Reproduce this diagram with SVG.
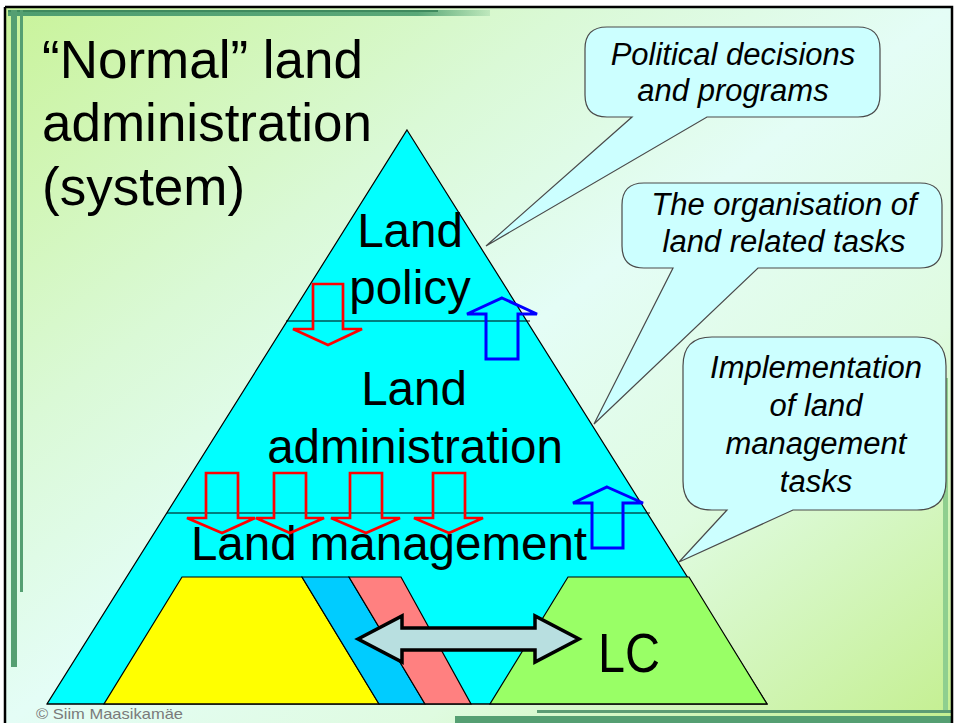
<svg xmlns="http://www.w3.org/2000/svg" width="954" height="723" viewBox="0 0 954 723">
<defs>
<linearGradient id="bg" x1="0" y1="0" x2="1" y2="1">
<stop offset="0" stop-color="#c9f39a"/>
<stop offset="0.3" stop-color="#daf9d6"/>
<stop offset="0.5" stop-color="#e4fdf6"/>
<stop offset="0.72" stop-color="#dffbe0"/>
<stop offset="1" stop-color="#c4ef90"/>
</linearGradient>
<linearGradient id="topbar" x1="0" y1="0" x2="1" y2="0">
<stop offset="0" stop-color="#4f9e70"/>
<stop offset="0.85" stop-color="#5aa878"/>
<stop offset="1" stop-color="#5aa878" stop-opacity="0.2"/>
</linearGradient>
<style>
.t{font-family:"Liberation Sans",Arial,sans-serif;fill:#000}
.title{font-size:53px}
.lbl{font-size:47.5px;text-anchor:middle}
.co{font-size:31px;font-style:italic;text-anchor:middle}
.bub{fill:#ccffff;stroke:#4a4a4a;stroke-width:1.2}
.edge{stroke:#000;stroke-width:1.2}
.down{fill:none;stroke:#ff0000;stroke-width:2.7;stroke-linejoin:miter}
.up{fill:none;stroke:#0000ff;stroke-width:3;stroke-linejoin:miter}
.deco{fill:#559f72}
</style>
</defs>
<rect width="954" height="723" fill="#fff"/>
<rect x="5" y="7" width="947" height="716" fill="url(#bg)"/>
<g id="decor">
<rect x="8" y="10" width="482" height="6" fill="url(#topbar)"/>
<rect x="8" y="10" width="430" height="2" fill="#3f8a5e"/>
<rect x="11" y="10" width="6" height="657" class="deco"/>
<rect x="20" y="10" width="3" height="582" class="deco"/>
<rect x="943" y="378" width="5" height="334" fill="#8fcf8f"/>
<rect x="537" y="710" width="415" height="3" fill="#5c9c74"/>
<rect x="455" y="716" width="497" height="7" class="deco"/>
<path d="M5,7 H952 V723 M5,7 V723" fill="none" stroke="#000" stroke-width="2.5"/>
</g>
<g id="title">
<text class="t title" x="42" y="78">“Normal” land</text>
<text class="t title" x="42" y="141">administration</text>
<text class="t title" x="42" y="205">(system)</text>
</g>
<g id="pyramid">
<polygon points="407,130 767,704 47,704" fill="#00ffff" class="edge"/>
<line x1="286" y1="321" x2="530" y2="321" class="edge"/>
<line x1="167" y1="513" x2="650" y2="513" class="edge"/>
</g>
<g id="land-policy">
<text class="t lbl" x="410" y="247">Land</text>
<text class="t lbl" x="410" y="304">policy</text>
</g>
<g id="land-administration">
<text class="t lbl" x="414" y="405">Land</text>
<text class="t lbl" x="415" y="463">administration</text>
</g>
<g id="land-management">
<text class="t lbl" x="389" y="560">Land management</text>
</g>
<g id="bottom">
<polygon points="182,577 302,577 379,704 104,704" fill="#ffff00" class="edge"/>
<polygon points="302,577 349,577 425,704 379,704" fill="#00ccff" class="edge"/>
<polygon points="349,577 401,577 471,704 425,704" fill="#ff8080" class="edge"/>
<polygon points="568,577 689,577 767,704 490,704" fill="#99ff66" class="edge"/>
<line x1="47" y1="704" x2="767" y2="704" class="edge"/>
</g>
<g id="connectors">
<path class="down" d="M313,284 H343 V329 H362 L328,345 L293,329 H313 Z"/>
<path class="up" d="M502,298 L537,314 H518 V359 H486 V314 H467 Z"/>
<path class="down" d="M206,473 H238 V518 H255 L222,533 L187,518 H206 Z"/>
<path class="down" d="M274,473 H306 V518 H324 L290,533 L256,518 H274 Z"/>
<path class="down" d="M350,473 H382 V518 H400 L366,533 L331,518 H350 Z"/>
<path class="down" d="M433,473 H465 V518 H483 L449,533 L414,518 H433 Z"/>
<path class="up" d="M607,487 L643,503 H623 V548 H592 V503 H573 Z"/>
<path d="M358,639 L402,616 V628 H535 V616 L579,639 L535,662 V650 H402 V662 Z" fill="#b8dfe0" stroke="#000" stroke-width="3.5" stroke-linejoin="miter"/>
</g>
<g id="lc">
<text class="t" x="598" y="672" font-size="56" textLength="62" lengthAdjust="spacingAndGlyphs">LC</text>
</g>
<g id="callout-political">
<path class="bub" d="M607,27 H858 Q880,27 880,49 V95 Q880,117 858,117 H707 L486,246 L632,117 H607 Q585,117 585,95 V49 Q585,27 607,27 Z"/>
<text class="t co" x="733" y="65">Political decisions</text>
<text class="t co" x="733" y="101">and programs</text>
</g>
<g id="callout-organisation">
<path class="bub" d="M644,183 H920 Q942,183 942,205 V246 Q942,268 920,268 H758 L594,424 L673,268 H644 Q622,268 622,246 V205 Q622,183 644,183 Z"/>
<text class="t co" x="784" y="215">The organisation of</text>
<text class="t co" x="784" y="252">land related tasks</text>
</g>
<g id="callout-implementation">
<path class="bub" d="M712,337 H917 Q946,337 946,366 V481 Q946,510 917,510 H793 L679,562 L727,510 H712 Q683,510 683,481 V366 Q683,337 712,337 Z"/>
<text class="t co" x="816" y="378">Implementation</text>
<text class="t co" x="816" y="416">of land</text>
<text class="t co" x="816" y="454">management</text>
<text class="t co" x="816" y="492">tasks</text>
</g>
<g id="copyright">
<text x="36" y="719" font-family="Liberation Sans,Arial,sans-serif" font-size="15" fill="#7a7a7a" textLength="147" lengthAdjust="spacingAndGlyphs">© Siim Maasikamäe</text>
</g>
</svg>
